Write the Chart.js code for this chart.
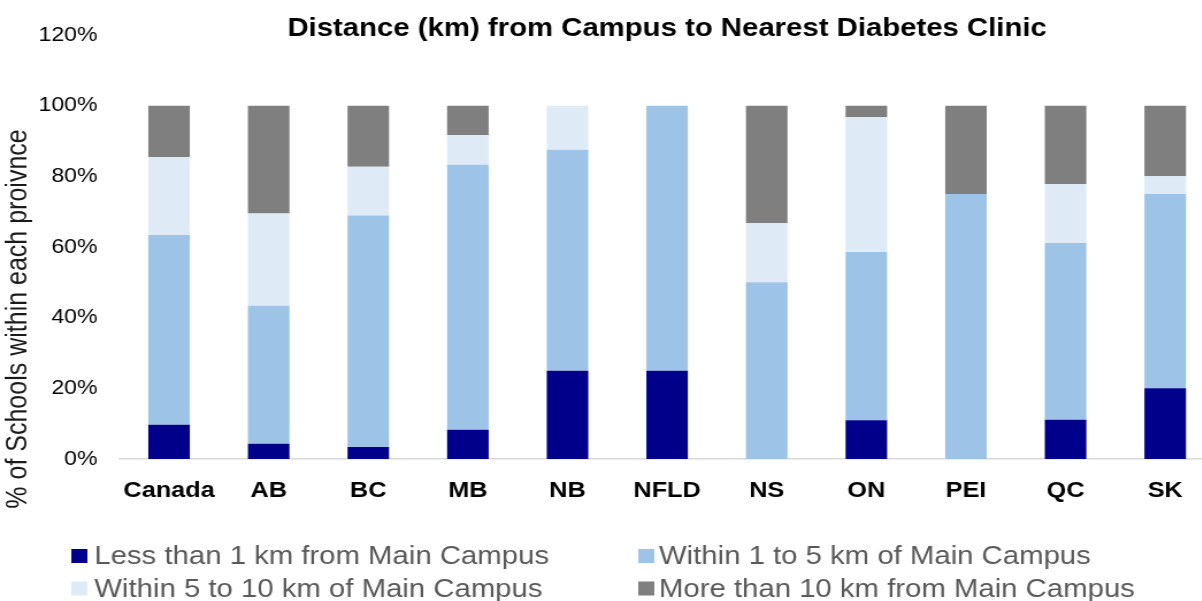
<!DOCTYPE html>
<html>
<head>
<meta charset="utf-8">
<script src="https://cdn.jsdelivr.net/npm/chart.js@4/dist/chart.umd.min.js"></script>
<style>
  html, body { margin: 0; padding: 0; background: #fff; }
  #wrap { width: 1202px; height: 601px; overflow: hidden; position: relative; }
  #c { width: 1060px; height: 601px; transform: scaleX(1.15); transform-origin: 0 0; display: block; }
</style>
</head>
<body>
<div id="wrap"><canvas id="c" width="1060" height="601"></canvas></div>
<script>
const categories = ['Canada', 'AB', 'BC', 'MB', 'NB', 'NFLD', 'NS', 'ON', 'PEI', 'QC', 'SK'];
const lessThan1km = [9.7, 4.3, 3.4, 8.3, 25, 25, 0, 11.0, 0, 11.1, 20];
const within1to5km = [53.7, 39.1, 65.5, 75.0, 62.5, 75, 50, 47.6, 75, 50, 55];
const within5to10km = [22.0, 26.1, 13.8, 8.4, 12.5, 0, 16.7, 38.1, 0, 16.7, 5];
const moreThan10km = [14.6, 30.5, 17.3, 8.3, 0, 0, 33.3, 3.3, 25, 22.2, 20];
const seriesNames = [
  'Less than 1 km from Main Campus',
  'Within 1 to 5 km of Main Campus',
  'Within 5 to 10 km of Main Campus',
  'More than 10 km from Main Campus'
];
const yTicks = [0, 20, 40, 60, 80, 100, 120];
const chartTitle = 'Distance (km) from Campus to Nearest Diabetes Clinic';
const yTitle = '% of Schools within each proivnce';

const FONT = "'Liberation Sans', Arial, Helvetica, sans-serif";
const colors = ['#00008B', '#9DC3E6', '#DEEBF7', '#7F7F7F'];
const seriesValues = [lessThan1km, within1to5km, within5to10km, moreThan10km];

const customText = {
  id: 'customText',
  afterDraw(chart, args, opts) {
    const ctx = chart.ctx;
    ctx.save();
    // y-axis title
    ctx.translate(opts.yTitleX, opts.yTitleY);
    ctx.rotate(-Math.PI / 2);
    ctx.font = '25px ' + FONT;
    ctx.fillStyle = '#1a1a1a';
    ctx.textAlign = 'center';
    ctx.textBaseline = 'middle';
    ctx.fillText(yTitle, 0, 0);
    ctx.restore();
    // legend in a 2-column grid
    ctx.save();
    ctx.font = '25.5px ' + FONT;
    ctx.textAlign = 'left';
    ctx.textBaseline = 'middle';
    chart.data.datasets.forEach((ds, i) => {
      const col = i % 2, row = Math.floor(i / 2);
      const bx = opts.colBoxX[col], tx = opts.colTextX[col], y = opts.rowY[row];
      ctx.fillStyle = ds.backgroundColor;
      ctx.fillRect(bx, y - opts.box / 2, opts.box, opts.box);
      ctx.fillStyle = '#595959';
      ctx.fillText(ds.label, tx, y + 1);
    });
    ctx.restore();
  }
};

new Chart(document.getElementById('c'), {
  type: 'bar',
  data: {
    labels: categories,
    datasets: seriesNames.map((name, i) => ({
      label: name,
      data: seriesValues[i],
      backgroundColor: colors[i],
      borderWidth: 0,
      categoryPercentage: 1,
      barPercentage: 0.417
    }))
  },
  options: {
    responsive: false,
    animation: false,
    devicePixelRatio: 1,
    layout: { padding: { left: 0, right: 3.5, top: 0, bottom: 0 } },
    plugins: {
      legend: { display: false },
      tooltip: { enabled: false },
      title: {
        display: true,
        text: chartTitle,
        fullSize: false,
        color: '#000',
        font: { family: FONT, size: 25.5, weight: 'bold' },
        padding: { top: 14, bottom: -9.6 }
      },
      customText: {
        yTitleX: 16, yTitleY: 319,
        colBoxX: [62, 555], colTextX: [82, 573],
        rowY: [556, 588.5], box: 14
      }
    },
    scales: {
      x: {
        stacked: true,
        offset: true,
        grid: { display: false, drawTicks: false },
        border: { display: true, color: '#D9D9D9', width: 1.5 },
        ticks: { color: '#000', padding: 19, font: { family: FONT, size: 22, weight: 'bold' }, maxRotation: 0, autoSkip: false },
        afterFit(scale) { scale.height = 142; }
      },
      y: {
        stacked: true,
        min: 0,
        max: 120,
        afterBuildTicks(scale) { scale.ticks = yTicks.map(v => ({ value: v })); },
        grid: { display: false, drawTicks: false },
        border: { display: false },
        ticks: { color: '#000', padding: 19, font: { family: FONT, size: 20 }, callback: v => v + '%' },
        afterFit(scale) { scale.width = 103.7; }
      }
    }
  },
  plugins: [customText]
});
</script>
</body>
</html>
